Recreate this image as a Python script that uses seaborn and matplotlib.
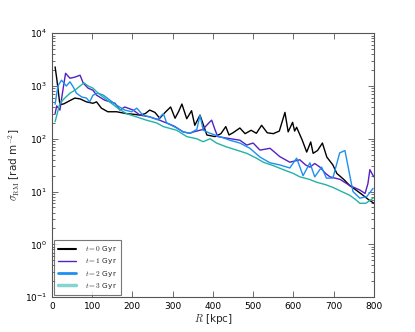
import numpy as np
import pandas as pd
import seaborn as sns
import matplotlib
matplotlib.use("Agg")
import matplotlib.pyplot as plt
from matplotlib.lines import Line2D

# radius [kpc] and sigma_RM [rad m^-2], one pair of lists per snapshot
r_t0 = [8, 12, 20, 30, 45, 57, 70, 86, 102, 111,
        123, 139, 161, 185, 205, 219, 232, 243, 256, 268,
        282, 295, 306, 315, 323, 335, 347, 355, 368, 385,
        405, 420, 432, 440, 450, 467, 480, 495, 508, 521,
        535, 550, 565, 579, 587, 598, 603, 608, 622, 633,
        643, 649, 660, 672, 683, 698, 708, 725, 740, 757,
        773, 787, 800]
sig_t0 = [2300, 1400, 440, 460, 530, 590, 570, 500, 470, 500,
          380, 325, 325, 300, 290, 280, 300, 350, 316, 245,
          320, 400, 245, 330, 455, 240, 340, 180, 280, 118,
          110, 125, 170, 118, 130, 160, 125, 145, 127, 180,
          130, 125, 140, 316, 135, 205, 140, 165, 94, 56,
          87, 53, 60, 83, 45, 32, 22, 17, 13, 10.5,
          8.5, 7, 6]

r_t1 = [8, 12, 20, 27, 34, 45, 57, 70, 78, 90,
        102, 111, 131, 145, 157, 169, 181, 202, 219, 243,
        268, 277, 292, 306, 326, 343, 352, 375, 390, 397,
        405, 412, 434, 467, 484, 500, 517, 542, 566, 591,
        616, 630, 641, 653, 666, 680, 691, 716, 740, 765,
        778, 785, 790, 795, 800]
sig_t1 = [300, 420, 350, 800, 1740, 1400, 1470, 1600, 1130, 910,
          830, 670, 540, 500, 470, 350, 400, 350, 280, 260,
          225, 210, 190, 170, 135, 127, 135, 150, 200, 225,
          150, 110, 103, 94, 76, 83, 61, 66, 46, 36,
          40, 32, 29, 34, 29, 22, 19, 17, 13, 10.7,
          9.2, 14, 26, 22, 19]

r_t2 = [8, 15, 24, 36, 45, 53, 61, 74, 86, 94,
        102, 115, 128, 144, 161, 181, 198, 211, 226, 243,
        262, 277, 285, 310, 326, 343, 360, 368, 376, 393,
        417, 442, 467, 492, 517, 542, 566, 591, 608, 624,
        641, 653, 670, 682, 698, 715, 728, 735, 748, 765,
        782, 798]
sig_t2 = [450, 1000, 1290, 1000, 1200, 960, 730, 620, 590, 500,
          670, 730, 670, 540, 430, 350, 325, 380, 280, 260,
          230, 300, 200, 160, 135, 127, 150, 280, 145, 127,
          110, 94, 83, 66, 45, 35, 32, 28, 43, 20,
          35, 19, 29, 18, 18, 54, 60, 32, 10, 7.5,
          8, 11.5]

r_t3 = [8, 20, 32, 45, 57, 70, 80, 90, 102, 115,
        131, 148, 164, 185, 210, 235, 260, 277, 310, 335,
        360, 376, 393, 409, 434, 459, 484, 508, 525, 550,
        575, 600, 616, 640, 658, 680, 698, 720, 740, 755,
        765, 780, 798]
sig_t3 = [210, 470, 590, 730, 830, 1000, 1150, 1000, 910, 730,
          590, 470, 380, 300, 260, 225, 200, 170, 145, 110,
          100, 88, 100, 83, 70, 61, 53, 43, 36, 31,
          26, 22, 19, 17, 15, 13.5, 12, 10, 8.5, 7,
          6, 6, 7.5]

labels = [r"$t=0$ Gyr", r"$t=1$ Gyr", r"$t=2$ Gyr", r"$t=3$ Gyr"]
colors = ["black", "#5421c4", "#1e8ff0", "#22b2a8"]

frames = []
for lab, r, s in zip(labels, [r_t0, r_t1, r_t2, r_t3], [sig_t0, sig_t1, sig_t2, sig_t3]):
    frames.append(pd.DataFrame({"R": r, "sigma": s, "time": lab}))
df = pd.concat(frames, ignore_index=True)

sns.set_style("ticks")
plt.rcParams["mathtext.fontset"] = "cm"
plt.rcParams["font.family"] = ["DejaVu Sans"]

fig = plt.figure(figsize=(4.15, 3.32), dpi=100)
ax = fig.add_axes([0.125, 0.105, 0.776, 0.795])

sns.lineplot(data=df, x="R", y="sigma", hue="time", palette=colors,
             estimator=None, sort=False, linewidth=1.0, ax=ax, legend=False)

ax.set_yscale("log")
ax.set_xlim(0, 800)
ax.set_ylim(0.1, 1e4)
ax.set_xticks(range(0, 801, 100))
ax.tick_params(which="both", direction="in", top=True, right=True,
               labelsize=6.5, colors="#555555", labelcolor="black", width=0.6)
ax.tick_params(which="major", length=4)
ax.tick_params(which="minor", length=2)
for sp in ax.spines.values():
    sp.set_color("#555555")
    sp.set_linewidth(0.8)

ax.set_xlabel(r"$R$ [kpc]", fontsize=7.5, labelpad=1)
ax.set_ylabel(r"$\sigma_{\rm RM}$ [rad m$^{-2}$]", fontsize=7.5, labelpad=2)

handles = [Line2D([], [], color="black", lw=1.5),
           Line2D([], [], color="#5421c4", lw=1.0),
           Line2D([], [], color="#1e8ff0", lw=2.0),
           Line2D([], [], color="#22b2a8", lw=2.5, alpha=0.55)]
leg = ax.legend(handles, labels, loc="lower left", fontsize=5.3, fancybox=False,
                handlelength=2.4, borderpad=0.55, labelspacing=0.3,
                borderaxespad=0.3, handletextpad=1.3)
leg.get_frame().set_edgecolor("#555555")
leg.get_frame().set_linewidth(0.8)

fig.savefig("out.png", dpi=100)
